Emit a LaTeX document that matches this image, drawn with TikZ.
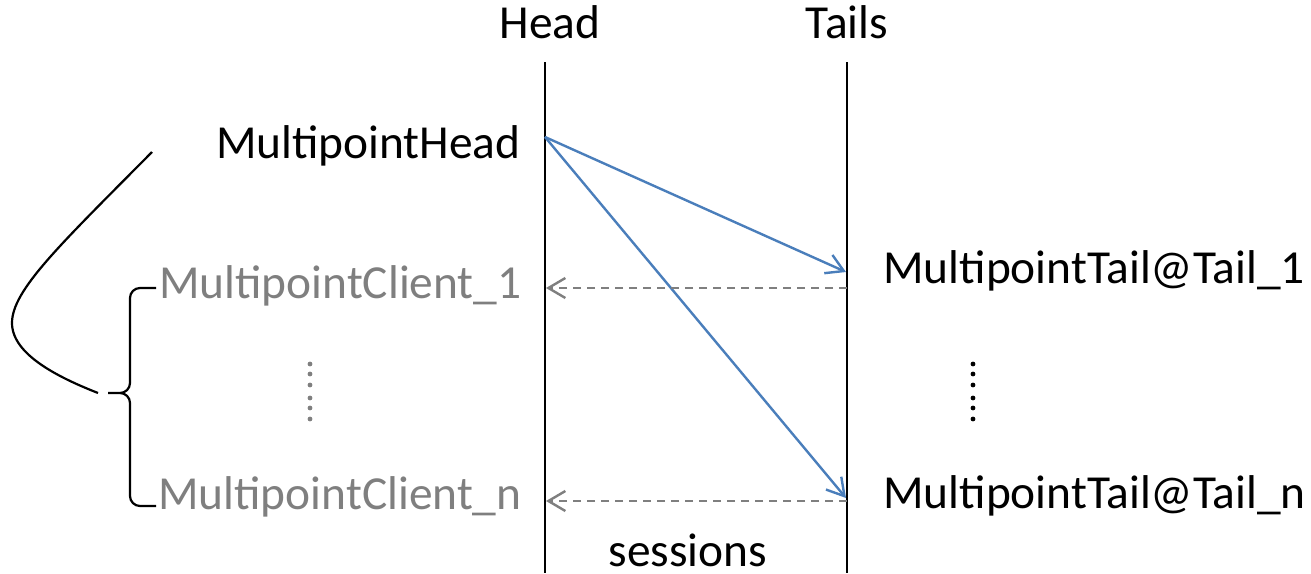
\documentclass[tikz,border=0pt]{standalone}
\usepackage{fontspec}
\setmainfont{Carlito}
\usetikzlibrary{arrows.meta}
\definecolor{arrowblue}{HTML}{4A7EBB}
\definecolor{softgray}{HTML}{7F7F7F}

\begin{document}
\begin{tikzpicture}[
    x=0.5pt, y=-0.5pt,
    >={Straight Barb[length=8.5pt,width=10pt]},
    txt/.style={inner sep=0pt, font=\fontsize{23.7}{28}\selectfont},
    greytxt/.style={txt, text=softgray},
    lifeline/.style={line width=1pt},
    call/.style={->, line width=1.2pt, arrowblue},
    reply/.style={->, line width=1.2pt, softgray, dash pattern=on 4.2pt off 2.8pt}
    ]

    \useasboundingbox (0,0) rectangle (1311,573);

    % titulos
    \node[txt, anchor=base] (head) at (550,38) {Head};
    \node[txt, anchor=base] (tails) at (847,38) {Tails};

    % linhas de vida
    \coordinate (htop) at (545,62);
    \coordinate (hbot) at (545,573);
    \coordinate (ttop) at (847,62);
    \coordinate (tbot) at (847,573);
    \draw[lifeline] (htop)--(hbot);
    \draw[lifeline] (ttop)--(tbot);

    % rotulos
    \node[txt, anchor=base east] (mhead) at (521,158) {MultipointHead};
    \node[greytxt, anchor=base east] (client1) at (522,298) {MultipointClient\_1};
    \node[greytxt, anchor=base east] (clientn) at (522,509) {MultipointClient\_n};
    \node[txt, anchor=base west] (tail1) at (883,283) {MultipointTail@Tail\_1};
    \node[txt, anchor=base west] (tailn) at (883,508) {MultipointTail@Tail\_n};
    \node[txt, anchor=base, text depth=0pt] (sessions) at (688,566) {sessions};

    % setas
    \coordinate (hs) at (545,137);
    \coordinate (t1) at (846,272);
    \coordinate (tn) at (846,498);
    \coordinate (r1t) at (847,288);
    \coordinate (r1h) at (546,288);
    \coordinate (rnt) at (847,501);
    \coordinate (rnh) at (546,501);
    \draw[call] (hs)--(t1);
    \draw[call] (hs)--(tn);
    \draw[reply] (r1t)--(r1h);
    \draw[reply] (rnt)--(rnh);

    % pontos
    \foreach \y in {364,374,385,398,408,419}{
      \fill[softgray] (310,\y) circle[radius=2.4];
      \fill (973,\y) circle[radius=2.4];
    }

    % chave
    \coordinate (tip) at (108,393);
    \draw[line width=1.1pt, rounded corners=5]
      (156,288) -- (130,288) -- (130,393) -- (tip)
      (tip) -- (130,393) -- (130,506) -- (156,506);

    % curva
    \coordinate (cstart) at (152,152);
    \coordinate (cend) at (98,393);
    \draw[line width=1.1pt]
      (cstart) .. controls (60,245) and (12,290) .. (12,323)
      .. controls (12,355) and (60,378) .. (cend);

\end{tikzpicture}
\end{document}
